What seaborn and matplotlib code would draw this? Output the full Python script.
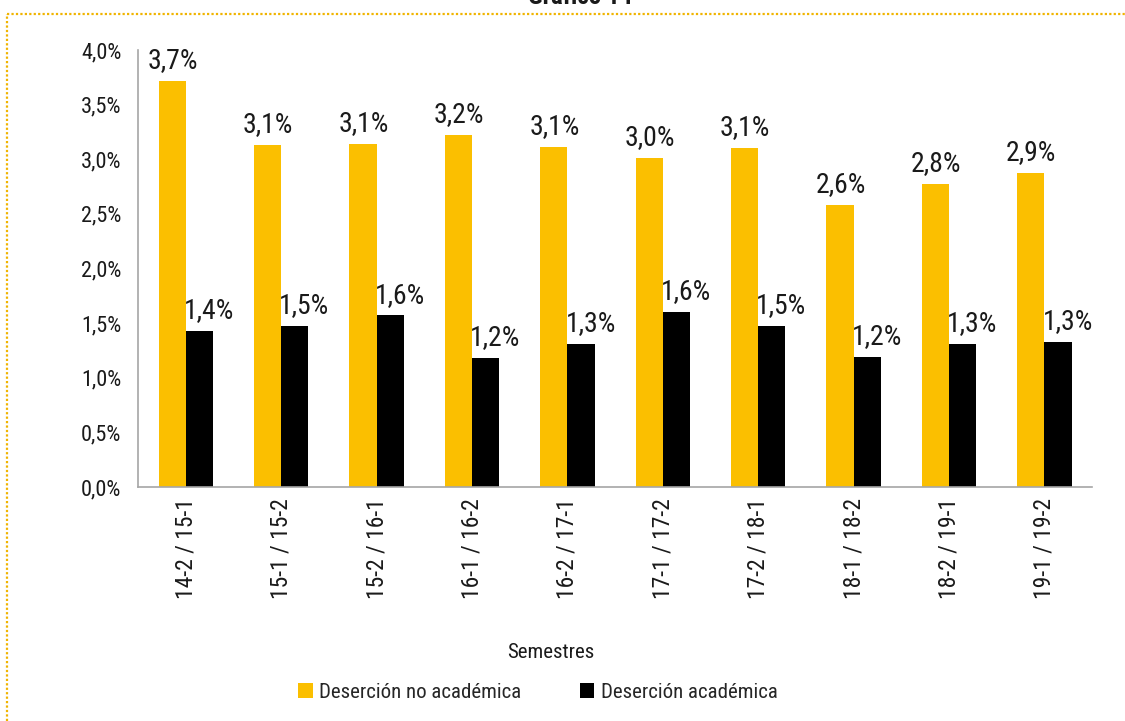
import numpy as np
import pandas as pd
import seaborn as sns
import matplotlib.pyplot as plt
from matplotlib import font_manager as fm
from matplotlib.lines import Line2D
from matplotlib.ticker import FuncFormatter, MultipleLocator

# Data
semestres = ['14-2 / 15-1', '15-1 / 15-2', '15-2 / 16-1', '16-1 / 16-2', '16-2 / 17-1',
             '17-1 / 17-2', '17-2 / 18-1', '18-1 / 18-2', '18-2 / 19-1', '19-1 / 19-2']
no_academica = [3.72, 3.13, 3.14, 3.22, 3.11, 3.01, 3.10, 2.58, 2.77, 2.87]
academica = [1.43, 1.47, 1.57, 1.18, 1.31, 1.60, 1.47, 1.19, 1.31, 1.33]
series = ['Deserción no académica', 'Deserción académica']
colores = ['#FBBF00', '#000000']

df = pd.DataFrame({
    'semestre': semestres * 2,
    'valor': no_academica + academica,
    'serie': [series[0]] * len(semestres) + [series[1]] * len(semestres),
})

sns.set_style('white')

# pick a narrow font if one is there
fuente = 'DejaVu Sans'
for cand in ['Roboto Condensed', 'Liberation Sans Narrow', 'Open Sans Condensed', 'Noto Sans Condensed']:
    try:
        fm.findfont(fm.FontProperties(family=cand), fallback_to_default=False)
        fuente = cand
        break
    except ValueError:
        pass
plt.rcParams['font.family'] = [fuente, 'DejaVu Sans']
plt.rcParams['font.stretch'] = 'condensed'

fig = plt.figure(figsize=(11.25, 7.21), dpi=100)
ax = fig.add_axes([0.1227, 0.3245, 0.848, 0.6062])

sns.barplot(data=df, x='semestre', y='valor', hue='serie', palette=colores,
            width=0.57, ax=ax, saturation=1, linewidth=0)

ax.set_ylim(0, 4.0)
ax.yaxis.set_major_locator(MultipleLocator(0.5))
ax.yaxis.set_major_formatter(FuncFormatter(lambda v, p: f'{v:.1f}%'.replace('.', ',')))
ax.tick_params(axis='y', labelsize=16, length=0, pad=12, labelcolor='#1a1a1a')
ax.tick_params(axis='x', labelsize=17, length=0, pad=8, labelrotation=90, labelcolor='#1a1a1a')
ax.set_xlabel('')
ax.set_ylabel('')

for side in ['top', 'right']:
    ax.spines[side].set_visible(False)
for side in ['left', 'bottom']:
    ax.spines[side].set_color('#A6A6A6')
    ax.spines[side].set_linewidth(1.2)

# value labels on bars
for cont, dx in zip(ax.containers, [0.5, 7]):
    for patch in cont:
        h = patch.get_height()
        ax.annotate(f'{h:.1f}%'.replace('.', ','),
                    (patch.get_x() + patch.get_width() / 2, h),
                    xytext=(dx, 5), textcoords='offset points',
                    ha='center', va='bottom', fontsize=20, color='#1a1a1a')

handles, labels = ax.get_legend_handles_labels()
ax.get_legend().remove()
fig.legend(handles, labels, loc='center', bbox_to_anchor=(538 / 1125, 1 - 692 / 721),
           ncol=2, frameon=False, fontsize=15, handlelength=0.7, handleheight=0.7,
           handletextpad=0.3, columnspacing=2.8)

fig.text(551 / 1125, 1 - 653 / 721, 'Semestres', ha='center', va='center',
         fontsize=15, color='#1a1a1a')

# title, cut at the top edge as in the source
fig.text(580 / 1125, 1 - 4 / 721, 'Gráfico 14', ha='center', va='baseline',
         fontsize=18, fontweight='bold', color='#1a1a1a')

# dotted frame
borde = '#F0B400'
fig.add_artist(Line2D([7 / 1125, 1.0], [1 - 14 / 721, 1 - 14 / 721], transform=fig.transFigure,
                      color=borde, linestyle=(0, (1, 1)), linewidth=1.6))
fig.add_artist(Line2D([7 / 1125, 7 / 1125], [0.0, 1 - 14 / 721], transform=fig.transFigure,
                      color=borde, linestyle=(0, (1, 1)), linewidth=1.6))

fig.savefig('out.png', dpi=100)
